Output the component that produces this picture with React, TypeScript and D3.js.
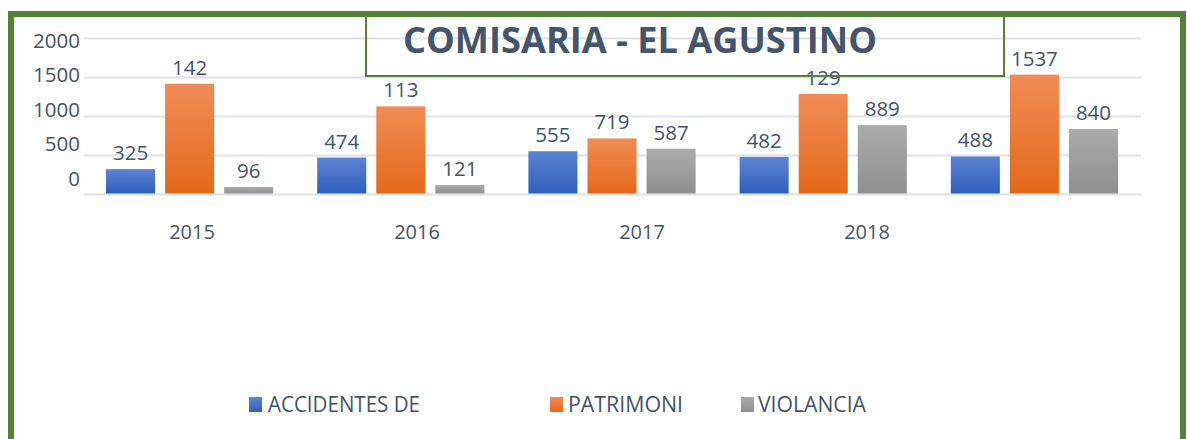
import React from "react";
import * as d3 from "d3";

const categories = ["2015", "2016", "2017", "2018", ""];
const seriesNames = ["ACCIDENTES DE", "PATRIMONI", "VIOLANCIA"];
const accidentes = [325, 474, 555, 482, 488];
const patrimonio = [1420, 1130, 719, 1290, 1537];
const violencia = [96, 121, 587, 889, 840];
const accidentesLabels = ["325", "474", "555", "482", "488"];
const patrimonioLabels = ["142", "113", "719", "129", "1537"];
const violenciaLabels = ["96", "121", "587", "889", "840"];
const yTicks = [0, 500, 1000, 1500, 2000];
const title = "COMISARIA - EL AGUSTINO";

const W = 1187;
const H = 439;
const TEXT = "#44546a";
const GREEN = "#548235";
const FONT = "'Open Sans', 'Noto Sans', sans-serif";

const gradients = [
  { id: "gBlue", top: "#5c84d2", bottom: "#2f5fbd" },
  { id: "gOrange", top: "#f08c56", bottom: "#e4691a" },
  { id: "gGray", top: "#ababab", bottom: "#8f8f8f" },
];

export default function App() {
  const values = [accidentes, patrimonio, violencia];
  const labels = [accidentesLabels, patrimonioLabels, violenciaLabels];

  const y = d3.scaleLinear().domain([0, 2000]).range([194.5, 38.5]);
  const yLabel = d3.scaleLinear().domain([0, 2000]).range([178, 40]);
  const x = d3.scaleBand<string>().domain(categories).range([84, 1140]).paddingInner(0).paddingOuter(0);
  const inner = d3
    .scaleBand<string>()
    .domain(seriesNames)
    .range([22, x.bandwidth() - 22])
    .paddingInner(0.1695)
    .paddingOuter(0);
  const xLabel = d3.scaleBand<string>().domain(categories).range([79.5, 79.5 + 225 * 5]);

  const legendPos = [
    { sx: 249, tx: 268, len: 152 },
    { sx: 550, tx: 568, len: 115 },
    { sx: 741, tx: 758, len: 108 },
  ];

  return (
    <svg
      width={W}
      height={H}
      style={{ position: "absolute", left: 0, top: 0, background: "#fff" }}
      fontFamily={FONT}
    >
      <defs>
        {gradients.map((g) => (
          <linearGradient key={g.id} id={g.id} x1="0" y1="0" x2="0" y2="1">
            <stop offset="0%" stopColor={g.top} />
            <stop offset="100%" stopColor={g.bottom} />
          </linearGradient>
        ))}
      </defs>
      <rect x={0} y={0} width={W} height={H} fill="#fff" />
      {/* gridlines */}
      {yTicks.map((t) => (
        <line key={t} x1={84} x2={1141} y1={y(t)} y2={y(t)} stroke="#dde1e8" strokeWidth={2} />
      ))}
      {/* y labels */}
      {yTicks.map((t) => (
        <text key={t} x={80} y={yLabel(t) + 7.5} textAnchor="end" fontSize={20.5} fill={TEXT}>
          {t}
        </text>
      ))}
      {/* bars */}
      {categories.map((c, i) => (
        <g key={c + i} transform={`translate(${x(c)},0)`}>
          {seriesNames.map((s, j) => {
            const v = values[j][i];
            const bx = inner(s)!;
            const top = y(v);
            return (
              <g key={s}>
                <rect x={bx} y={top} width={inner.bandwidth()} height={y(0) - 1 - top} fill={`url(#${gradients[j].id})`} />
                <text x={bx + inner.bandwidth() / 2} y={top - 9} textAnchor="middle" fontSize={20.5} fill={TEXT}>
                  {labels[j][i]}
                </text>
              </g>
            );
          })}
        </g>
      ))}
      {/* category labels */}
      {categories.map((c, i) => (
        <text key={"c" + i} x={xLabel(c)! + xLabel.bandwidth() / 2} y={239} textAnchor="middle" fontSize={20} fill={TEXT}>
          {c}
        </text>
      ))}
      {/* title box */}
      <rect x={366} y={16} width={638} height={60} fill="none" stroke={GREEN} strokeWidth={2} />
      <text x={403} y={53} fontSize={35} fontWeight="bold" fill={TEXT} textLength={474} lengthAdjust="spacingAndGlyphs">
        {title}
      </text>
      {/* legend */}
      {seriesNames.map((s, j) => (
        <g key={"l" + s}>
          <rect x={legendPos[j].sx} y={397} width={13} height={15} fill={`url(#${gradients[j].id})`} />
          <text x={legendPos[j].tx} y={412} fontSize={21} fill={TEXT} textLength={legendPos[j].len} lengthAdjust="spacingAndGlyphs">
            {s}
          </text>
        </g>
      ))}
      {/* outer frame */}
      <rect x={11} y={14} width={1172} height={460} fill="none" stroke={GREEN} strokeWidth={6} />
    </svg>
  );
}
